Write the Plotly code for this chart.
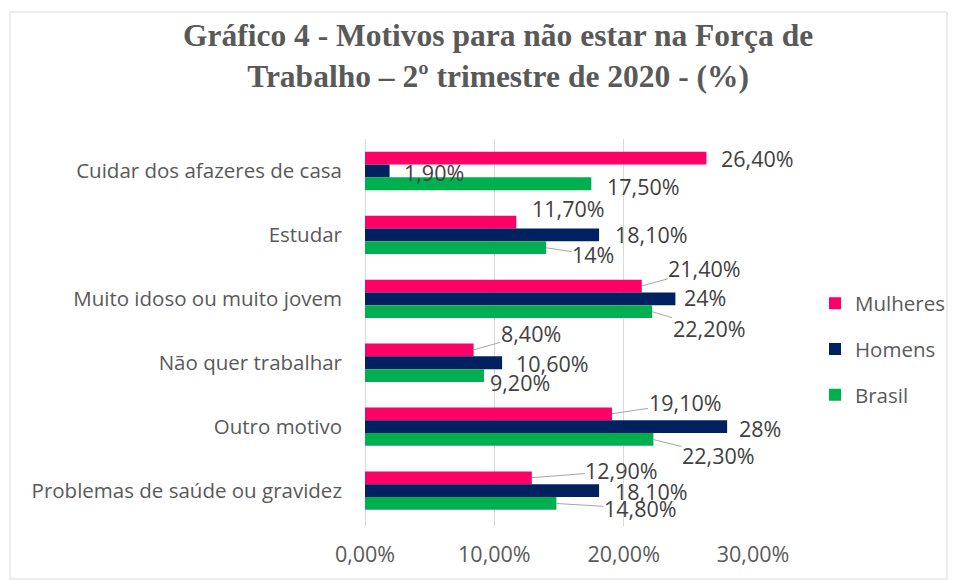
import plotly.graph_objects as go

# ---------------- data ----------------
categories = [
    "Cuidar dos afazeres de casa",
    "Estudar",
    "Muito idoso ou muito jovem",
    "Não quer trabalhar",
    "Outro motivo",
    "Problemas de saúde ou gravidez",
]
mulheres = [26.4, 11.7, 21.4, 8.4, 19.1, 12.9]
homens = [1.9, 18.1, 24.0, 10.6, 28.0, 18.1]
brasil = [17.5, 14.0, 22.2, 9.2, 22.3, 14.8]
series_names = ["Mulheres", "Homens", "Brasil"]
x_ticks = [0, 10, 20, 30]

# ---------------- styles / layout ----------------
# page body has an 8px margin, so the figure is drawn 8px in from the window edge
SW, SH, OFF = 957, 580, 8
W, H = SW - OFF, SH - OFF
PL, PR, PT, PB = 365, 753, 139, 526          # plot area in window pixels
ML, MR, MT, MB = PL - OFF, SW - PR, PT - OFF, SH - PB
BARGAP = 0.4
colors = ["#FF0066", "#002060", "#00B050"]
TXT = "#595959"
LBL = "#404040"
FONT = "Open Sans"
FS = 20.5
FS_LBL = 21.5

# label placement (text-centre offset in px from bar end, leader line?)
label_offsets = [
    [(51, 0, False), (52, -13, False), (63, -17, True), (57, -16, True), (73, -11, True), (90, -7, True)],
    [(44, 2, False), (52, 0, False), (30, -1, False), (50, 1, False), (33, 2, False), (52, 1, False)],
    [(52, 3, False), (47, 7, True), (57, 17, True), (36, 7, False), (65, 16, True), (84, 5, True)],
]


def fmt(v):
    if abs(v - round(v)) < 1e-9:
        return f"{int(round(v))}%"
    return f"{v:.2f}".replace(".", ",") + "%"


def fmt_tick(v):
    return f"{v:.2f}".replace(".", ",") + "%"


series_vals = [mulheres, homens, brasil]
fig = go.Figure()
for i, (name, vals) in enumerate(zip(series_names, series_vals)):
    fig.add_trace(go.Bar(
        y=categories, x=vals, name=name, orientation="h",
        marker=dict(color=colors[i], line=dict(width=0)),
        legendgroup=name,
    ))

plot_w = PR - PL
plot_h = PB - PT
bar_px = plot_h / len(categories) * (1 - BARGAP) / 3
annotations = []
for i, vals in enumerate(series_vals):
    yshift = (1 - i) * bar_px
    for j, v in enumerate(vals):
        dx, dy, leader = label_offsets[i][j]
        annotations.append(dict(
            x=v, y=categories[j], xref="x", yref="y",
            text=fmt(v), showarrow=True, arrowhead=0, arrowwidth=1,
            arrowcolor="#A6A6A6" if leader else "rgba(0,0,0,0)",
            ax=dx, ay=dy, standoff=0, yshift=yshift,
            font=dict(family=FONT, size=FS_LBL, color=LBL),
            xanchor="center", yanchor="middle", borderpad=0,
        ))


def px_x(p):
    return (p - PL) / plot_w


def px_y(p):
    return (PB - p) / plot_h


annotations.append(dict(
    text="Gráfico 4 - Motivos para não estar na Força de<br>Trabalho – 2º trimestre de 2020 - (%)",
    xref="paper", yref="paper", x=px_x(498), y=px_y(56),
    xanchor="center", yanchor="middle", showarrow=False,
    font=dict(family="Liberation Serif", size=31.5, color=TXT, weight="bold"),
))

fig.update_layout(
    width=W, height=H,
    margin=dict(l=ML, r=MR, t=MT, b=MB, pad=0, autoexpand=False),
    paper_bgcolor="white", plot_bgcolor="white",
    barmode="group", bargap=BARGAP, bargroupgap=0,
    xaxis=dict(
        range=[0, 30], tickvals=x_ticks, ticktext=[fmt_tick(t) for t in x_ticks],
        showgrid=True, gridcolor="#D9D9D9", gridwidth=1,
        zeroline=True, zerolinecolor="#D9D9D9", zerolinewidth=1,
        showline=False, ticks="",
        tickfont=dict(family=FONT, size=FS_LBL, color=TXT),
        ticklabelstandoff=13, fixedrange=True, automargin=False,
    ),
    yaxis=dict(
        autorange="reversed", showgrid=False, zeroline=False, showline=False,
        ticks="", tickfont=dict(family=FONT, size=FS, color=TXT),
        ticklabelstandoff=22, automargin=False,
    ),
    legend=dict(
        x=px_x(815), xanchor="left", y=px_y(349), yanchor="middle",
        font=dict(family=FONT, size=FS, color=TXT),
        tracegroupgap=16, traceorder="grouped",
        bgcolor="rgba(0,0,0,0)",
    ),
    annotations=annotations,
    shapes=[dict(
        type="rect", xref="paper", yref="paper",
        x0=px_x(10), x1=px_x(947), y0=px_y(579), y1=px_y(12),
        line=dict(color="#D9D9D9", width=1), fillcolor="rgba(0,0,0,0)",
        layer="below",
    )],
)

fig.write_html("out.html")
